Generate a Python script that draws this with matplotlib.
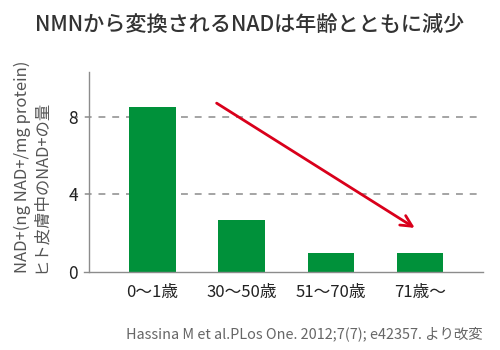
import matplotlib
matplotlib.use("Agg")
import matplotlib.pyplot as plt

plt.rcParams['font.family'] = ['Noto Sans CJK JP', 'DejaVu Sans']

# NAD+ content in human skin by age group
categories = ["0～1歳", "30～50歳", "51～70歳", "71歳～"]
nad_values = [8.5, 2.7, 1.0, 1.0]
y_ticks = [0, 4, 8]

title = "NMNから変換されるNADは年齢とともに減少"
ylabel_unit = "NAD+(ng NAD+/mg protein)"
ylabel_desc = "ヒト皮膚中のNAD+の量"
source = "Hassina M et al.PLos One. 2012;7(7); e42357. より改変"

GREEN = "#00913a"
RED = "#d9001b"
AXIS_GRAY = "#8c8c8c"
TEXT = "#222222"

fig = plt.figure(figsize=(5, 3.5), dpi=100)
ax = fig.add_axes([0.178, 0.223, 0.788, 0.571])

x = list(range(len(categories)))
ax.bar(x, nad_values, width=0.52, color=GREEN, zorder=3)

ax.set_xlim(-0.71, 3.705)
ax.set_ylim(0, 10.3)

# dashed reference lines at the non-zero ticks, starting a little left of the axis
for v in y_ticks[1:]:
    ax.plot([-0.045, 1.0], [v, v], transform=ax.get_yaxis_transform(),
            color=AXIS_GRAY, lw=1.1, ls=(0, (4.5, 4.5)), clip_on=False, zorder=1)

# baseline extends slightly beyond the left spine
ax.plot([-0.012, 1.0], [0, 0], transform=ax.get_yaxis_transform(),
        color=AXIS_GRAY, lw=1.0, clip_on=False, zorder=4)

for side in ("top", "right", "bottom"):
    ax.spines[side].set_visible(False)
ax.spines["left"].set_color(AXIS_GRAY)
ax.spines["left"].set_linewidth(1.0)

ax.set_yticks(y_ticks)
ax.set_yticklabels([str(t) for t in y_ticks], fontsize=12.5, color=TEXT)
ax.set_xticks(x)
ax.set_xticklabels(categories, fontsize=12, color=TEXT)
ax.tick_params(axis="both", length=0, pad=8)
ax.tick_params(axis="x", pad=9)

# downward trend arrow
ax.annotate("", xy=(2.94, 2.27), xytext=(0.72, 8.7),
            arrowprops=dict(arrowstyle="->", color=RED, lw=2.0,
                            mutation_scale=20, shrinkA=0, shrinkB=0),
            zorder=5)

fig.text(0.5, 0.928, title, ha="center", va="center", fontsize=15.2,
         color="#333333", fontweight="medium")

fig.text(0.044, 0.221, ylabel_unit, rotation=90, ha="center", va="bottom",
         fontsize=12, color="#555555")
fig.text(0.081, 0.221, ylabel_desc, rotation=90, ha="center", va="bottom",
         fontsize=11.8, color="#555555")

fig.text(0.966, 0.047, source, ha="right", va="center", fontsize=10.4, color="#666666")

fig.savefig("out.png", dpi=100)
